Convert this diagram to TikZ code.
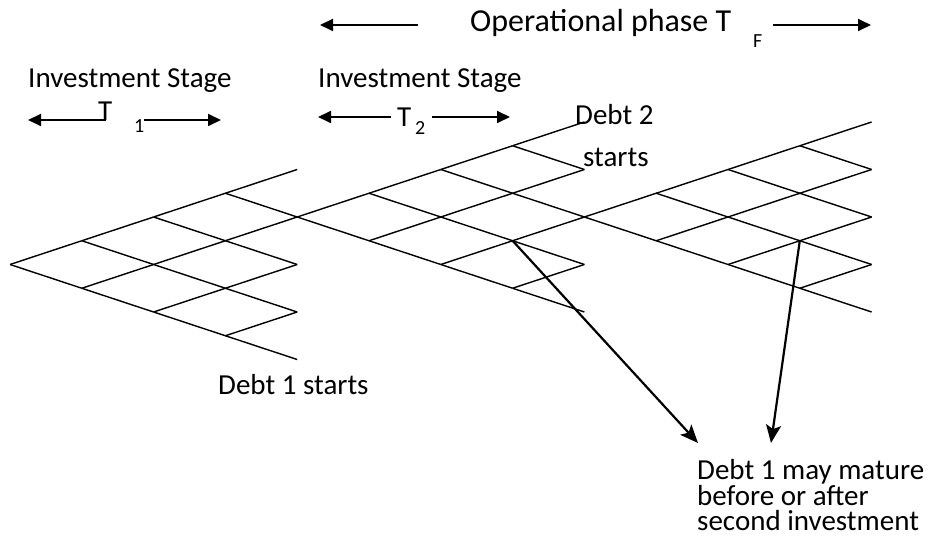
\documentclass[tikz,border=0pt]{standalone}
\usepackage{fontspec}
\setmainfont{Carlito}
\usetikzlibrary{arrows.meta}
\usetikzlibrary{calc}

% binomial tree: name, root x, root y (in px, y grows downward)
\newcommand{\lattice}[3]{%
  \foreach \i in {0,...,4}{
    \foreach \j in {0,...,\i}{
      \coordinate (#1-\i-\j) at ({#2+\i*71.8},{#3-(2*\j-\i)*23.75});
    }
  }
  \foreach \i in {0,...,3}{
    \foreach \j in {0,...,\i}{
      \pgfmathtruncatemacro\ni{\i+1}
      \pgfmathtruncatemacro\nj{\j+1}
      \path (#1-\i-\j) edge[treeline] (#1-\ni-\j);
      \path (#1-\i-\j) edge[treeline] (#1-\ni-\nj);
    }
  }
}

\begin{document}
\begin{tikzpicture}[x=1pt, y=-1pt,
    font=\fontsize{29}{24.5}\selectfont,
    inner sep=0pt,
    treeline/.style={line width=1.4pt},
    span/.style={line width=1.8pt, -{Triangle[length=13pt,width=12pt]}},
    pointer/.style={line width=2.2pt, -{Stealth[length=18pt,width=15pt,inset=4pt]}},
    sub/.style={font=\fontsize{20}{20}\selectfont}]
    \path [use as bounding box] (0,0) rectangle (932,540);

    % the three trees
    \lattice{one}{10}{264.5}
    \lattice{two}{297.2}{217}
    \lattice{three}{584.4}{217}

    % operational phase
    \node[name=oper, anchor=base west, font=\fontsize{32}{32}\selectfont] at (470,32) {Operational phase T};
    \node[name=operf, anchor=base west, sub] at (753,48) {F};
    \coordinate (operls) at (418,25);
    \coordinate (operl) at (320,25);
    \coordinate (operrs) at (773,25);
    \coordinate (operr) at (871,25);
    \path (operls) edge[span] (operl);
    \path (operrs) edge[span] (operr);

    % investment stages
    \node[name=stageone, anchor=base west] at (28,88) {Investment Stage};
    \node[name=stagetwo, anchor=base west] at (318,88) {Investment Stage};

    \node[name=tone, anchor=base west] at (98,121) {T};
    \node[name=tonesub, anchor=base west, sub] at (134,133) {1};
    \coordinate (onel) at (28,120);
    \coordinate (onels) at (105.5,120);
    \coordinate (oner) at (221,120);
    \coordinate (oners) at (144,120);
    \path (onels) edge[span] (onel);
    \path (oners) edge[span] (oner);

    \node[name=ttwo, anchor=base west] at (397,126.5) {T};
    \node[name=ttwosub, anchor=base west, sub] at (415,135) {2};
    \coordinate (twol) at (318,117);
    \coordinate (twols) at (391,117);
    \coordinate (twor) at (510,117);
    \coordinate (twors) at (432,117);
    \path (twols) edge[span] (twol);
    \path (twors) edge[span] (twor);

    % debt labels
    \node[name=debttwo, anchor=base west] at (575,125) {Debt 2};
    \node[name=starts, anchor=base west] at (583,167) {starts};
    \node[name=debtone, anchor=base west] at (218,394) {Debt 1 starts};

    \node[name=mature,
      anchor=base west,
      align=left] at (697,530) {Debt 1 may mature\\before or after\\second investment};

    \coordinate (tipa) at (698,443);
    \coordinate (tipb) at (771,443);
    \path (two-3-1) edge[pointer] (tipa);
    \path (three-3-1) edge[pointer] (tipb);

  \end{tikzpicture}
\end{document}
